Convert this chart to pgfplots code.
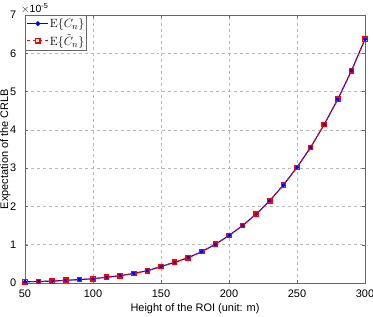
\documentclass[border=0pt]{standalone}
\usepackage{pgfplots}
\pgfplotsset{compat=1.18}
\usepackage[no-math]{fontspec}
\setmainfont{Liberation Sans}
\begin{document}
\fontsize{11}{13}\selectfont
\begin{tikzpicture}
\begin{axis}[
  name=ax,
  scale only axis,
  width=340bp, height=268bp,
  xmin=50, xmax=300, ymin=0, ymax=7e-5,
  xtick={50,100,150,200,250,300},
  ytick={0,1e-5,2e-5,3e-5,4e-5,5e-5,6e-5,7e-5},
  scaled y ticks=base 10:5,
  ytick scale label code/.code={$\times$10\textsuperscript{#1}},
  every y tick scale label/.style={at={(axis description cs:0,1)}, anchor=south west, inner sep=1pt, font=\fontsize{10.5}{11}\selectfont},
  /pgf/number format/assume math mode=true,
  xticklabel style={yshift=-3pt},
  yticklabel style={xshift=-5pt},
  grid=major,
  grid style={dashed, gray!55, line width=0.5pt},
  axis line style={gray!80!black, line width=0.6pt},
  tick style={gray!80!black},
  tick align=inside,
  major tick length=3pt,
  xlabel={Height of the ROI (unit: m)},
  ylabel={Expectation of the CRLB},
  xlabel style={at={(axis description cs:0.5,0)}, anchor=center, yshift=-26bp},
  ylabel style={at={(axis description cs:-0.058,0.5)}, anchor=center},
  legend cell align=left,
  legend style={draw=gray!80!black, line width=0.6pt, inner xsep=1pt, inner ysep=1pt, row sep=1.5pt, font=\fontsize{13}{14}\selectfont, at={(0,1)}, anchor=north west, nodes={inner xsep=1.5pt, inner ysep=2pt}},
  legend image code/.code={\draw[#1, mark=none] (0bp,0bp) -- (21bp,0bp); \draw[#1, only marks] plot coordinates {(11bp,0bp)};},
]
\addplot[blue, line width=1.1pt, mark=*, mark size=1.8pt] table {
x y
50 0.03e-5
60 0.04e-5
70 0.05e-5
80 0.07e-5
90 0.09e-5
100 0.11e-5
110 0.15e-5
120 0.19e-5
130 0.25e-5
140 0.32e-5
150 0.43e-5
160 0.54e-5
170 0.66e-5
180 0.82e-5
190 1.01e-5
200 1.24e-5
210 1.50e-5
220 1.80e-5
230 2.15e-5
240 2.56e-5
250 3.02e-5
260 3.54e-5
270 4.14e-5
280 4.80e-5
290 5.54e-5
300 6.37e-5
};
\addlegendentry{$\mathrm{E}\{C_n\}$}
\addplot[red, line width=1.1pt, dashed, mark=square, mark size=2.2pt, mark options={solid, line width=1.3pt}] table {
x y
50 0.03e-5
60 0.04e-5
70 0.05e-5
80 0.07e-5
90 0.09e-5
100 0.11e-5
110 0.15e-5
120 0.19e-5
130 0.25e-5
140 0.32e-5
150 0.43e-5
160 0.54e-5
170 0.66e-5
180 0.82e-5
190 1.01e-5
200 1.24e-5
210 1.50e-5
220 1.80e-5
230 2.15e-5
240 2.56e-5
250 3.02e-5
260 3.54e-5
270 4.14e-5
280 4.80e-5
290 5.54e-5
300 6.37e-5
};
\addlegendentry{$\mathrm{E}\{\tilde{C}_n\}$}
\end{axis}
\pgfresetboundingbox
\path ([shift={(-25bp,-34bp)}]ax.south west) rectangle ([shift={(8bp,15bp)}]ax.north east);
\end{tikzpicture}
\end{document}
